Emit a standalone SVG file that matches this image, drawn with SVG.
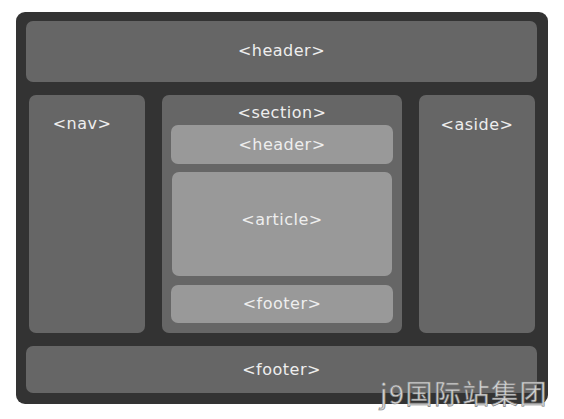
<svg xmlns="http://www.w3.org/2000/svg" width="564" height="419" viewBox="0 0 564 419">
<style>
.frame{fill:#333333}
.box{fill:#666666}
.inner{fill:#999999}
.lbl{font-family:"DejaVu Sans","Verdana",sans-serif;font-size:16px;fill:#eeeeee;text-anchor:middle;letter-spacing:0.5px}
.wm{font-family:"Noto Sans CJK SC","DejaVu Sans",sans-serif;font-size:27px;fill:#d4d4d4;stroke:#7a7a7a;stroke-width:0.6px;letter-spacing:1.5px}
</style>
<rect width="564" height="419" fill="#ffffff"/>
<rect class="frame" x="16" y="12" width="532" height="392" rx="9"/>
<g id="header">
<rect class="box" x="26" y="21" width="511" height="61" rx="7"/>
<text class="lbl" x="281.5" y="56">&lt;header&gt;</text>
</g>
<g id="nav">
<rect class="box" x="29" y="95" width="116" height="238" rx="7"/>
<text class="lbl" x="82" y="129">&lt;nav&gt;</text>
</g>
<g id="section">
<rect class="box" x="162" y="95" width="240" height="238" rx="7"/>
<text class="lbl" x="282" y="118">&lt;section&gt;</text>
</g>
<g id="section-header">
<rect class="inner" x="171" y="125" width="222" height="39" rx="7"/>
<text class="lbl" x="282" y="150">&lt;header&gt;</text>
</g>
<g id="article">
<rect class="inner" x="172" y="172" width="220" height="104" rx="7"/>
<text class="lbl" x="282" y="225">&lt;article&gt;</text>
</g>
<g id="section-footer">
<rect class="inner" x="171" y="285" width="222" height="38" rx="7"/>
<text class="lbl" x="282" y="309">&lt;footer&gt;</text>
</g>
<g id="aside">
<rect class="box" x="419" y="95" width="116" height="238" rx="7"/>
<text class="lbl" x="477" y="130">&lt;aside&gt;</text>
</g>
<g id="footer">
<rect class="box" x="26" y="346" width="511" height="47" rx="7"/>
<text class="lbl" x="281.5" y="375">&lt;footer&gt;</text>
</g>
<g id="connectors"></g>
<text class="wm" x="380" y="404">j9国际站集团</text>
</svg>
